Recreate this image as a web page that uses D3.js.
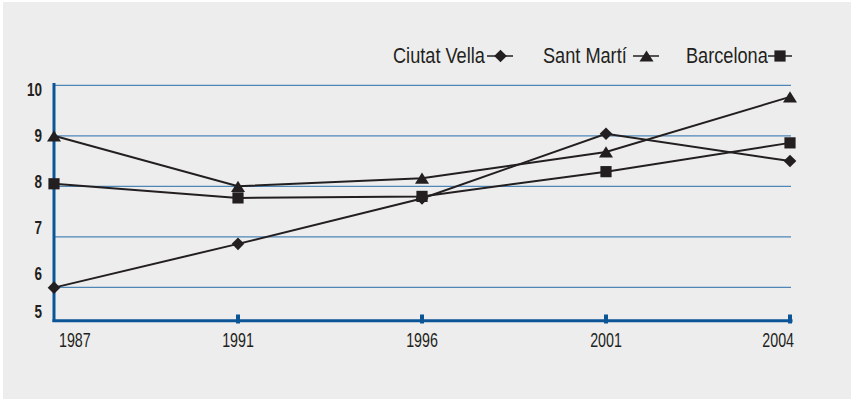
<!DOCTYPE html>
<html>
<head>
<meta charset="utf-8">
<script src="https://cdn.jsdelivr.net/npm/d3@7"></script>
<style>
  html, body { margin: 0; padding: 0; background: #ffffff; }
  svg { display: block; }
  text { font-family: "Liberation Sans", Arial, sans-serif; fill: #231f20; }
</style>
</head>
<body>
<svg id="chart" width="854" height="401"></svg>
<script>
// ---- data ----
const years = ["1987", "1991", "1996", "2001", "2004"];
const ciutatVella = [5.99, 6.86, 7.76, 9.04, 8.5];
const santMarti   = [9.0, 8.0, 8.16, 8.68, 9.77];
const barcelona   = [8.05, 7.77, 7.8, 8.29, 8.86];
const seriesNames = ["Ciutat Vella", "Sant Martí", "Barcelona"];
const yTickValues = [5, 6, 7, 8, 9, 10];
const gridValues  = [6, 7, 8, 9, 10];

const series = [
  { name: seriesNames[0], values: ciutatVella, marker: "diamond" },
  { name: seriesNames[1], values: santMarti,   marker: "triangle" },
  { name: seriesNames[2], values: barcelona,   marker: "square" }
];

const svg = d3.select("#chart");
const ink = "#231f20";
const axisBlue = "#0b5596";
const gridBlue = "#4f86b8";

svg.append("rect").attr("x", 3).attr("y", 2).attr("width", 848).attr("height", 397).attr("fill", "#ededed");

// scales
const x = d3.scalePoint().domain(years).range([54, 790]);
const y = d3.scaleLinear().domain([5, 6, 10]).range([320.7, 287.3, 85.3]);
const yLabel = d3.scaleLinear().domain([5, 6, 10]).range([311.7, 273.3, 89.5]);

// gridlines
svg.append("g").selectAll("line").data(gridValues).join("line")
  .attr("x1", 54).attr("x2", 791)
  .attr("y1", d => y(d)).attr("y2", d => y(d))
  .attr("stroke", gridBlue).attr("stroke-width", 1.2);

// y axis line
svg.append("line").attr("x1", 54).attr("x2", 54).attr("y1", 83).attr("y2", 322)
  .attr("stroke", axisBlue).attr("stroke-width", 3);
// x axis line
svg.append("line").attr("x1", 52.5).attr("x2", 792.5).attr("y1", y(5)).attr("y2", y(5))
  .attr("stroke", axisBlue).attr("stroke-width", 3);
// x ticks
svg.append("g").selectAll("rect").data(years.slice(1)).join("rect")
  .attr("x", d => x(d) - 2).attr("y", 314.5).attr("width", 4).attr("height", 9)
  .attr("fill", axisBlue);

// y labels (bold condensed)
svg.append("g").selectAll("text").data(yTickValues).join("text")
  .attr("transform", d => `translate(42,${yLabel(d) + 6.5}) scale(0.75,1)`)
  .attr("text-anchor", "end")
  .attr("font-size", 18).attr("font-weight", "bold")
  .text(d => d);

// x labels (condensed)
svg.append("g").selectAll("text").data(years).join("text")
  .attr("transform", (d, i) => {
    let tx = x(d);
    if (i === 0) tx = 59;
    if (i === years.length - 1) tx = 794;
    return `translate(${tx},347) scale(0.68,1)`;
  })
  .attr("text-anchor", (d, i) => i === 0 ? "start" : (i === years.length - 1 ? "end" : "middle"))
  .attr("font-size", 21)
  .text(d => d);

// marker generators
function markerPath(type, cx, cy, s) {
  if (type === "diamond") {
    const h = 6.3 * s, w = 6.3 * s;
    return `M${cx},${cy - h}L${cx + w},${cy}L${cx},${cy + h}L${cx - w},${cy}Z`;
  }
  if (type === "triangle") {
    const w = 7 * s, h = 5.6 * s;
    return `M${cx},${cy - h}L${cx + w},${cy + h}L${cx - w},${cy + h}Z`;
  }
  const a = 5.6 * s;
  return `M${cx - a},${cy - a}h${2 * a}v${2 * a}h${-2 * a}Z`;
}

const line = d3.line().x((d, i) => x(years[i])).y(d => y(d));

const g = svg.append("g");
series.forEach(s => {
  g.append("path").attr("d", line(s.values)).attr("fill", "none")
    .attr("stroke", ink).attr("stroke-width", 2);
});
series.forEach(s => {
  g.selectAll(null).data(s.values).join("path")
    .attr("d", (d, i) => markerPath(s.marker, x(years[i]), y(d), 1))
    .attr("fill", ink);
});

// legend
const legendItems = [
  { name: seriesNames[0], marker: "diamond",  tx: 393, lx1: 487, lx2: 513, mx: 500.5 },
  { name: seriesNames[1], marker: "triangle", tx: 543, lx1: 633, lx2: 659, mx: 646.5 },
  { name: seriesNames[2], marker: "square",   tx: 686, lx1: 768, lx2: 792, mx: 780 }
];
const lg = svg.append("g");
legendItems.forEach(it => {
  lg.append("text")
    .attr("transform", `translate(${it.tx},63) scale(0.845,1)`)
    .attr("font-size", 21.5).text(it.name);
  lg.append("line").attr("x1", it.lx1).attr("x2", it.lx2).attr("y1", 56).attr("y2", 56)
    .attr("stroke", ink).attr("stroke-width", 1.5);
  lg.append("path").attr("d", markerPath(it.marker, it.mx, 56, 1)).attr("fill", ink);
});
</script>
</body>
</html>
